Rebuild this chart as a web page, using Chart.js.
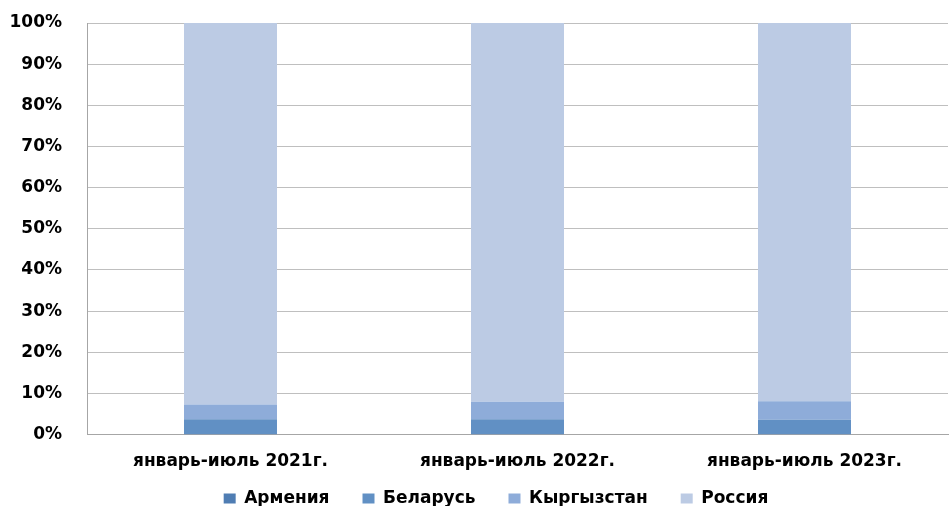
<!DOCTYPE html>
<html lang="ru">
  <head>
    <meta charset="UTF-8" />
    <script src="https://cdn.jsdelivr.net/npm/chart.js"></script>
    <style>
      html, body { margin: 0; padding: 0; background: #fff; }
      #wrap { width: 950px; height: 506px; position: relative; }
    </style>
  </head>
  <body>
    <div id="wrap"><canvas id="shareChart"></canvas></div>
    <script>
      const periods = ["январь-июль 2021г.", "январь-июль 2022г.", "январь-июль 2023г."];
      const armenia = [0.1, 0.1, 0.1];
      const belarus = [3.6, 3.6, 3.5];
      const kyrgyzstan = [3.6, 4.3, 4.5];
      const russia = [92.7, 92.0, 91.9];
      const yTicks = [0, 10, 20, 30, 40, 50, 60, 70, 80, 90, 100];

      const font = { family: "'DejaVu Sans', sans-serif", size: 17, weight: "bold" };

      // legend items sit closer to the axis labels than legend padding allows,
      // and a bit right of centre
      const legendShift = {
        id: "legendShift",
        afterLayout(chart) {
          const lg = chart.legend;
          lg.top -= 32;
          lg.bottom -= 32;
          lg.left += 22;
          lg.right += 22;
        },
      };

      new Chart(document.getElementById("shareChart"), {
        type: "bar",
        data: {
          labels: periods,
          datasets: [
            { label: "Армения", data: armenia, backgroundColor: "#4f7db3" },
            { label: "Беларусь", data: belarus, backgroundColor: "#6190c4" },
            { label: "Кыргызстан", data: kyrgyzstan, backgroundColor: "#8eacd9" },
            { label: "Россия", data: russia, backgroundColor: "#bccbe4" },
          ],
        },
        plugins: [legendShift],
        options: {
          responsive: true,
          maintainAspectRatio: false,
          animation: false,
          layout: { padding: { top: 0, right: 2, bottom: -43, left: 0 } },
          datasets: { bar: { barPercentage: 1, categoryPercentage: 0.324 } },
          plugins: {
            legend: {
              position: "bottom",
              labels: {
                color: "#000",
                font: font,
                boxWidth: 12,
                boxHeight: 10,
                padding: 33,
              },
            },
            tooltip: { enabled: false },
          },
          scales: {
            x: {
              stacked: true,
              grid: { display: false, drawTicks: false },
              border: { color: "#a6a6a6" },
              ticks: {
                color: "#000",
                font: font,
                padding: 17,
              },
            },
            y: {
              stacked: true,
              min: 0,
              max: 100,
              afterBuildTicks: (axis) => {
                axis.ticks = yTicks.map((v) => ({ value: v }));
              },
              afterFit: (axis) => {
                axis.width = 87;
                axis.paddingTop = 23;
                axis.paddingBottom = 0;
              },
              grid: { color: "#bfbfbf", drawTicks: false },
              border: { color: "#a6a6a6" },
              ticks: {
                color: "#000",
                font: font,
                padding: 25,
                callback: (v) => v + "%",
              },
            },
          },
        },
      });
    </script>
  </body>
</html>
